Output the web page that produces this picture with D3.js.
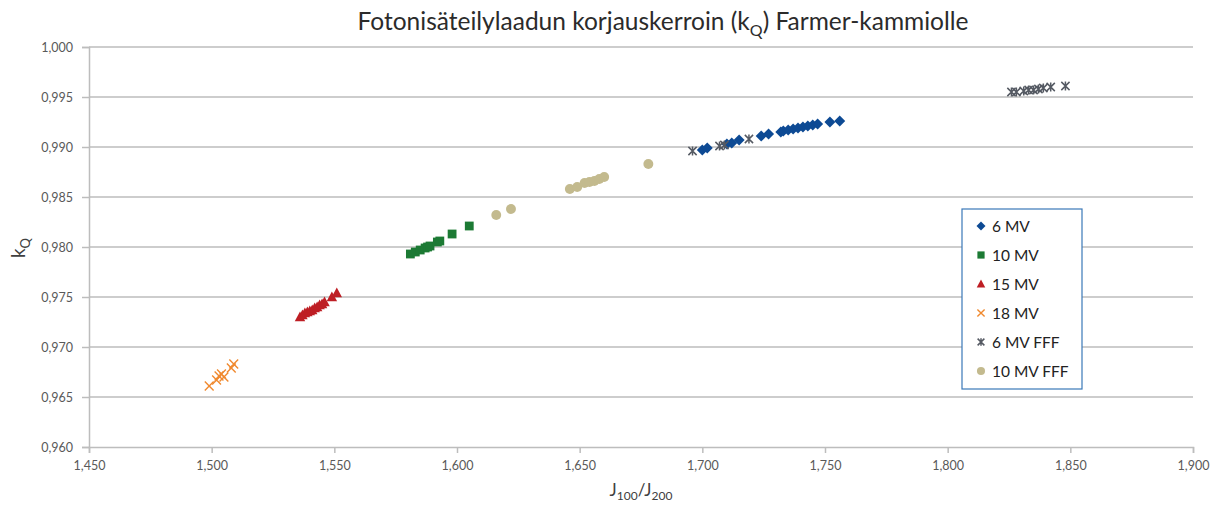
<!DOCTYPE html>
<html>
<head>
<meta charset="utf-8">
<script src="https://cdnjs.cloudflare.com/ajax/libs/d3/7.8.5/d3.min.js"></script>
<style>
  html, body { margin: 0; padding: 0; background: #fff; }
  svg { display: block; font-family: Lato, "Open Sans", sans-serif; }
</style>
</head>
<body>
<svg id="chart" width="1214" height="507"></svg>
<script>
// Photon beam quality correction factor kQ vs J100/J200 per beam
const mv6X  = [1.700, 1.702, 1.710, 1.712, 1.715, 1.724, 1.727, 1.732, 1.733, 1.735, 1.737, 1.739, 1.741, 1.743, 1.745, 1.747, 1.752, 1.756];
const mv6Y  = [0.9897, 0.9899, 0.9903, 0.9904, 0.9907, 0.9911, 0.9913, 0.9915, 0.9916, 0.9917, 0.9918, 0.9919, 0.9920, 0.9921, 0.9922, 0.9923, 0.9925, 0.9926];

const mv10X = [1.581, 1.583, 1.585, 1.587, 1.588, 1.589, 1.592, 1.593, 1.598, 1.605];
const mv10Y = [0.9793, 0.9795, 0.9797, 0.9799, 0.9800, 0.9801, 0.9805, 0.9806, 0.9813, 0.9821];

const mv15X = [1.536, 1.537, 1.538, 1.539, 1.540, 1.541, 1.542, 1.543, 1.544, 1.545, 1.546, 1.549, 1.551];
const mv15Y = [0.9730, 0.9732, 0.9734, 0.9735, 0.9736, 0.9737, 0.9739, 0.9740, 0.9742, 0.9743, 0.9745, 0.9750, 0.9754];

const mv18X = [1.499, 1.502, 1.503, 1.504, 1.505, 1.508, 1.509];
const mv18Y = [0.9661, 0.9667, 0.9671, 0.9673, 0.9670, 0.9679, 0.9683];

const fff6X = [1.696, 1.707, 1.709, 1.719, 1.826, 1.828, 1.831, 1.833, 1.835, 1.837, 1.839, 1.842, 1.848];
const fff6Y = [0.9896, 0.9901, 0.9902, 0.9908, 0.9955, 0.9955, 0.9956, 0.9957, 0.9957, 0.9958, 0.9959, 0.9960, 0.9961];

const fff10X = [1.616, 1.622, 1.646, 1.649, 1.652, 1.654, 1.656, 1.658, 1.660, 1.678];
const fff10Y = [0.9832, 0.9838, 0.9858, 0.9860, 0.9864, 0.9865, 0.9866, 0.9868, 0.9870, 0.9883];

const xTicks = [1.45, 1.50, 1.55, 1.60, 1.65, 1.70, 1.75, 1.80, 1.85, 1.90];
const yTicks = [0.960, 0.965, 0.970, 0.975, 0.980, 0.985, 0.990, 0.995, 1.000];

const seriesNames = ["6 MV", "10 MV", "15 MV", "18 MV", "6 MV FFF", "10 MV FFF"];

const series = [
  { name: seriesNames[0], xs: mv6X,   ys: mv6Y,   color: "#0d4a94", shape: "diamond" },
  { name: seriesNames[1], xs: mv10X,  ys: mv10Y,  color: "#1c7a34", shape: "square" },
  { name: seriesNames[2], xs: mv15X,  ys: mv15Y,  color: "#be1e24", shape: "triangle" },
  { name: seriesNames[3], xs: mv18X,  ys: mv18Y,  color: "#f0892e", shape: "cross" },
  { name: seriesNames[4], xs: fff6X,  ys: fff6Y,  color: "#555a63", shape: "star" },
  { name: seriesNames[5], xs: fff10X, ys: fff10Y, color: "#c3ba8e", shape: "circle" }
];

const svg = d3.select("#chart");
const margin = { left: 89, right: 1193, top: 47, bottom: 447 };

const x = d3.scaleLinear().domain([1.45, 1.90]).range([margin.left, margin.right]);
const y = d3.scaleLinear().domain([0.960, 1.000]).range([margin.bottom, margin.top]);

const fmt = d => d3.format(".3f")(d).replace(".", ",");
const gridColor = "#bdbdbd";
const labelColor = "#595959";

// horizontal gridlines
svg.append("g").selectAll("line").data(yTicks.filter(d => d > 0.960)).join("line")
  .attr("x1", margin.left).attr("x2", margin.right)
  .attr("y1", d => y(d)).attr("y2", d => y(d))
  .attr("stroke", gridColor).attr("stroke-width", 1.5);

// y axis
const yAxis = svg.append("g").attr("transform", `translate(${margin.left},0)`)
  .call(d3.axisLeft(y).tickValues(yTicks).tickFormat(fmt).tickSize(7).tickPadding(9));
yAxis.select(".domain").attr("stroke", gridColor).attr("stroke-width", 1.5);
yAxis.selectAll(".tick line").attr("stroke", gridColor).attr("stroke-width", 1.5);
yAxis.selectAll("text").attr("fill", labelColor).attr("font-size", 12.5).attr("font-family", "Lato, sans-serif");

// x axis
const xAxis = svg.append("g").attr("transform", `translate(0,${margin.bottom})`)
  .call(d3.axisBottom(x).tickValues(xTicks).tickFormat(fmt).tickSize(6).tickPadding(8));
xAxis.select(".domain").attr("stroke", gridColor).attr("stroke-width", 1.5);
xAxis.selectAll(".tick line").attr("stroke", gridColor).attr("stroke-width", 1.5);
xAxis.selectAll("text").attr("fill", labelColor).attr("font-size", 12.5).attr("font-family", "Lato, sans-serif");

// marker drawing
function drawMarker(g, shape, color, s) {
  if (shape === "diamond") {
    g.append("path").attr("d", `M0,${-s}L${s},0L0,${s}L${-s},0Z`).attr("fill", color);
  } else if (shape === "square") {
    g.append("rect").attr("x", -s * 0.8).attr("y", -s * 0.8).attr("width", s * 1.6).attr("height", s * 1.6).attr("fill", color);
  } else if (shape === "triangle") {
    g.append("path").attr("d", `M0,${-s}L${s * 0.95},${s * 0.75}L${-s * 0.95},${s * 0.75}Z`).attr("fill", color);
  } else if (shape === "cross") {
    const k = s * 0.8;
    g.append("path").attr("d", `M${-k},${-k}L${k},${k}M${k},${-k}L${-k},${k}`)
      .attr("stroke", color).attr("stroke-width", 1.4).attr("fill", "none");
  } else if (shape === "star") {
    const k = s * 0.75;
    g.append("path").attr("d", `M${-k},${-k}L${k},${k}M${k},${-k}L${-k},${k}M0,${-k * 1.1}L0,${k * 1.1}`)
      .attr("stroke", color).attr("stroke-width", 1.5).attr("fill", "none");
  } else if (shape === "circle") {
    g.append("circle").attr("r", s * 0.9).attr("fill", color);
  }
}

// data points
series.forEach(sr => {
  const pts = sr.xs.map((v, i) => [v, sr.ys[i]]);
  const g = svg.append("g").attr("class", "series");
  g.selectAll("g").data(pts).join("g")
    .attr("transform", d => `translate(${x(d[0])},${y(d[1])})`)
    .each(function () { drawMarker(d3.select(this), sr.shape, sr.color, 5.5); });
});

// title
const title = svg.append("text").attr("x", 663).attr("y", 30).attr("text-anchor", "middle")
  .attr("font-size", 24.5).attr("fill", "#2b2b2b");
title.append("tspan").text("Fotonisäteilylaadun korjauskerroin (k");
title.append("tspan").attr("font-size", 16).attr("dy", 6).text("Q");
title.append("tspan").attr("dy", -6).text(") Farmer-kammiolle");

// x axis title
const xt = svg.append("text").attr("x", 641).attr("y", 496).attr("text-anchor", "middle")
  .attr("font-size", 17).attr("fill", "#404040");
xt.append("tspan").text("J");
xt.append("tspan").attr("font-size", 12).attr("dy", 4).text("100");
xt.append("tspan").attr("dy", -4).text("/J");
xt.append("tspan").attr("font-size", 12).attr("dy", 4).text("200");

// y axis title
const yt = svg.append("text").attr("transform", "translate(25,248) rotate(-90)").attr("text-anchor", "middle")
  .attr("font-size", 19).attr("fill", "#404040");
yt.append("tspan").text("k");
yt.append("tspan").attr("font-size", 13).attr("dy", 5).text("Q");

// legend
const legend = svg.append("g").attr("transform", "translate(962,209)");
legend.append("rect").attr("width", 120).attr("height", 180).attr("fill", "#fff")
  .attr("stroke", "#3a78b8").attr("stroke-width", 1.2);
series.forEach((sr, i) => {
  const row = legend.append("g").attr("transform", `translate(19,${17 + i * 29})`);
  drawMarker(row.append("g"), sr.shape, sr.color, 4.5);
  row.append("text").attr("x", 11).attr("y", 5.5).attr("font-size", 15.5).attr("fill", "#222").text(sr.name);
});
</script>
</body>
</html>
